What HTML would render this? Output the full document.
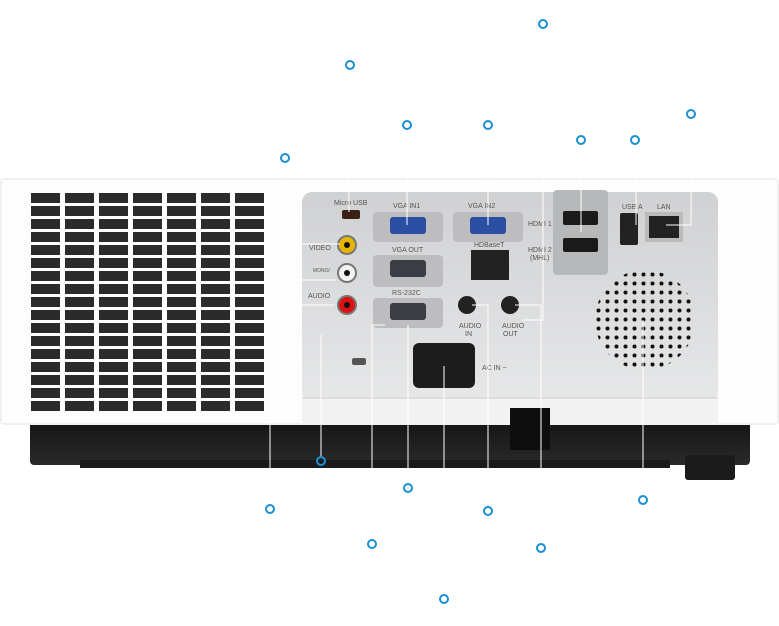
<!DOCTYPE html>
<html><head><style>
html,body{margin:0;padding:0;background:#fff;}
svg{display:block;font-family:"Liberation Sans",sans-serif;}
</style></head><body>
<svg width="779" height="626" viewBox="0 0 779 626" xmlns="http://www.w3.org/2000/svg">
<defs>
<linearGradient id="panel" x1="0" y1="0" x2="0" y2="1"><stop offset="0" stop-color="#d0d1d3"/><stop offset="1" stop-color="#e6e7e8"/></linearGradient>
<linearGradient id="base" x1="0" y1="0" x2="0" y2="1"><stop offset="0" stop-color="#111"/><stop offset="1" stop-color="#2a2a2a"/></linearGradient>
<pattern id="dots" width="9" height="9" patternUnits="userSpaceOnUse"><circle cx="4.5" cy="4.5" r="2" fill="#111"/></pattern>
</defs>
<rect x="30" y="415" width="720" height="50" rx="4" fill="url(#base)"/>
<rect x="80" y="460" width="590" height="8" fill="#1a1a1a"/>
<rect x="685" y="455" width="50" height="25" rx="3" fill="#1b1b1b"/>
<rect x="0" y="178" width="779" height="247" rx="4" fill="#f0f0f0"/>
<rect x="2" y="180" width="775" height="243" fill="#fdfdfd"/>
<g fill="#2b2b2b">
<g id="row">
<rect x="31" y="193" width="29" height="10"/><rect x="65" y="193" width="29" height="10"/><rect x="99" y="193" width="29" height="10"/><rect x="133" y="193" width="29" height="10"/><rect x="167" y="193" width="29" height="10"/><rect x="201" y="193" width="29" height="10"/><rect x="235" y="193" width="29" height="10"/>
</g>
<use href="#row" y="13"/><use href="#row" y="26"/><use href="#row" y="39"/><use href="#row" y="52"/><use href="#row" y="65"/><use href="#row" y="78"/><use href="#row" y="91"/><use href="#row" y="104"/><use href="#row" y="117"/><use href="#row" y="130"/><use href="#row" y="143"/><use href="#row" y="156"/><use href="#row" y="169"/><use href="#row" y="182"/><use href="#row" y="195"/><use href="#row" y="208"/>
</g>
<rect x="302" y="192" width="416" height="210" rx="10" fill="url(#panel)"/>
<rect x="302" y="398" width="416" height="27" fill="#f2f2f2"/>
<line x1="302" y1="398" x2="718" y2="398" stroke="#ccc"/>
<rect x="510" y="408" width="40" height="42" fill="#0e0e0e"/>
<circle cx="645" cy="320" r="50" fill="url(#dots)"/>
<rect x="342" y="210" width="18" height="9" rx="2" fill="#3a2015"/>
<rect x="373" y="212" width="70" height="30" rx="4" fill="#bdbdbf"/><rect x="390" y="217" width="36" height="17" rx="3" fill="#2a4fa3"/>
<rect x="453" y="212" width="70" height="30" rx="4" fill="#bdbdbf"/><rect x="470" y="217" width="36" height="17" rx="3" fill="#2a4fa3"/>
<rect x="373" y="255" width="70" height="32" rx="4" fill="#bdbdbf"/><rect x="390" y="260" width="36" height="17" rx="3" fill="#3a3d44"/>
<rect x="373" y="298" width="70" height="30" rx="4" fill="#bdbdbf"/><rect x="390" y="303" width="36" height="17" rx="3" fill="#3a3d44"/>
<rect x="471" y="250" width="38" height="30" fill="#222"/>
<rect x="553" y="190" width="55" height="85" rx="4" fill="#b7b8ba"/>
<rect x="563" y="211" width="35" height="14" rx="2" fill="#1a1a1a"/><rect x="563" y="238" width="35" height="14" rx="2" fill="#1a1a1a"/>
<rect x="620" y="213" width="18" height="32" rx="2" fill="#222"/>
<rect x="645" y="212" width="38" height="30" fill="#bbb"/><rect x="649" y="216" width="30" height="22" fill="#222"/>
<circle cx="347" cy="245" r="9" fill="#e6b500" stroke="#777" stroke-width="2"/><circle cx="347" cy="245" r="3" fill="#111"/>
<circle cx="347" cy="273" r="9" fill="#f4f4f4" stroke="#777" stroke-width="2"/><circle cx="347" cy="273" r="3" fill="#111"/>
<circle cx="347" cy="305" r="9" fill="#d11" stroke="#777" stroke-width="2"/><circle cx="347" cy="305" r="3" fill="#111"/>
<circle cx="467" cy="305" r="9" fill="#222"/><circle cx="510" cy="305" r="9" fill="#222"/>
<rect x="413" y="343" width="62" height="45" rx="6" fill="#1c1c1c"/>
<rect x="352" y="358" width="14" height="7" rx="2" fill="#555"/>
<g font-size="7" fill="#555">
<text x="334" y="205">Micro USB</text><text x="393" y="208">VGA IN1</text><text x="468" y="208">VGA IN2</text>
<text x="528" y="226">HDMI 1</text><text x="528" y="252">HDMI 2</text><text x="530" y="260">(MHL)</text>
<text x="622" y="209">USB A</text><text x="657" y="209">LAN</text>
<text x="309" y="250">VIDEO</text><text x="313" y="272" font-size="5">MONO/</text><text x="308" y="298">AUDIO</text>
<text x="392" y="252">VGA OUT</text><text x="474" y="247">HDBaseT</text><text x="392" y="295">RS-232C</text>
<text x="459" y="328">AUDIO</text><text x="465" y="336">IN</text><text x="502" y="328">AUDIO</text><text x="503" y="336">OUT</text>
<text x="482" y="370">AC IN ~</text>
</g>
<g stroke="#fff" stroke-width="1" fill="none">
<polyline points="286,178 286,244 340,244"/>
<line x1="349" y1="178" x2="349" y2="212"/>
<line x1="407" y1="178" x2="407" y2="225"/>
<line x1="488" y1="178" x2="488" y2="225"/>
<polyline points="543,178 543,320 522,320"/>
<line x1="581" y1="178" x2="581" y2="232"/>
<line x1="636" y1="178" x2="636" y2="225"/>
<polyline points="691,178 691,225 666,225"/>
<polyline points="270,468 270,280 335,280"/>
<line x1="270" y1="305" x2="335" y2="305"/>
<line x1="321" y1="335" x2="321" y2="457"/>
<polyline points="372,468 372,325 385,325"/>
<line x1="408" y1="325" x2="408" y2="468"/>
<line x1="444" y1="366" x2="444" y2="468"/>
<polyline points="488,468 488,305 472,305"/>
<polyline points="541,468 541,305 515,305"/>
<line x1="643" y1="320" x2="643" y2="468"/>
</g>
<g fill="none" stroke="#1a8fd6" stroke-width="2">
<circle cx="543" cy="24" r="4"/><circle cx="350" cy="65" r="4"/><circle cx="407" cy="125" r="4"/><circle cx="488" cy="125" r="4"/>
<circle cx="581" cy="140" r="4"/><circle cx="635" cy="140" r="4"/><circle cx="691" cy="114" r="4"/><circle cx="285" cy="158" r="4"/>
<circle cx="321" cy="461" r="4"/><circle cx="408" cy="488" r="4"/><circle cx="270" cy="509" r="4"/><circle cx="488" cy="511" r="4"/>
<circle cx="643" cy="500" r="4"/><circle cx="372" cy="544" r="4"/><circle cx="541" cy="548" r="4"/><circle cx="444" cy="599" r="4"/>
</g>
</svg>
</body></html>
